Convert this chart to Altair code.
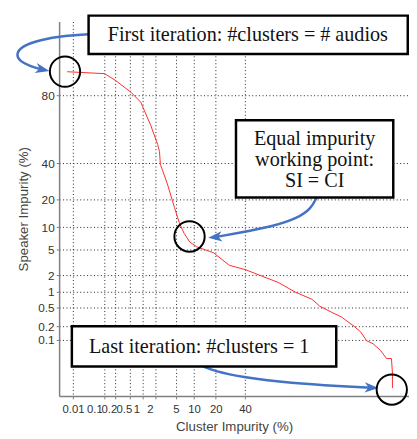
import altair as alt
import pandas as pd
from statistics import NormalDist

# ---- curve data (percent) ----
cluster_impurity = [0.0062, 0.102, 0.21, 0.54, 0.93, 1.56, 2.2, 2.4, 2.5, 3.45, 4.7, 5.7, 6.9, 8.6,
                    11.0, 18.8, 28.4, 40.7, 54.0, 66.0, 77.5, 86.3, 89.5, 93.2, 95.4, 97.4, 98.1,
                    98.6, 99.0, 99.34, 99.53, 99.65, 99.67, 99.67]
speaker_impurity = [88.9, 88.3, 86.0, 81.3, 76.7, 64.0, 52.0, 47.5, 39.4, 27.9, 16.7, 11.4, 8.4, 6.4,
                    5.5, 4.5, 2.9, 2.45, 1.9, 1.5, 1.0, 0.73, 0.53, 0.40, 0.32, 0.20, 0.15,
                    0.093, 0.079, 0.054, 0.034, 0.034, 0.0139, 0.0054]

x_ticks = [0.01, 0.1, 0.2, 0.5, 1, 2, 5, 10, 20, 40]
y_ticks = [0.1, 0.2, 0.5, 1, 2, 5, 10, 20, 40, 80]

# ---- annotation geometry (normal-deviate axis units) ----
box_labels = ["First iteration: #clusters = # audios", "Equal impurity\nworking point:\nSI = CI",
              "Last iteration: #clusters = 1"]
box_u1 = [-3.406, -0.436, -3.743]
box_u2 = [3.025, 2.733, 1.584]
box_v1 = [2.125, 0.439, -2.877]
box_v2 = [1.508, -0.803, -3.526]
text_u = [-0.198, 1.149, -1.178]
text_v = [1.816, 0.131, -3.209]   # for multi-line text: centre of first line

circle_u = [-3.881, -1.372, 2.703]
circle_v = [1.223, -1.432, -3.897]

arrow1_u = [-3.406, -3.867, -4.396, -4.758, -4.871, -4.792, -4.594, -4.337]
arrow1_v = [1.824, 1.804, 1.734, 1.630, 1.497, 1.392, 1.313, 1.254]
arrow2_u = [1.188, 1.083, 0.812, 0.291, -0.376, -0.851]
arrow2_v = [-0.803, -0.977, -1.136, -1.273, -1.373, -1.441]
arrow3_u = [-1.095, -0.897, -0.303, 0.687, 1.677, 2.297]
arrow3_v = [-3.526, -3.594, -3.700, -3.795, -3.842, -3.866]
head_u = [-4.333, -0.857, 2.297]
head_v = [1.258, -1.441, -3.866]
head_angle = [12, 174, 2]

nd = NormalDist()
xt = [nd.inv_cdf(v / 100) for v in x_ticks]
yt = [nd.inv_cdf(v / 100) for v in y_ticks]

curve = pd.DataFrame({"ci": cluster_impurity, "si": speaker_impurity,
                      "k": list(range(len(cluster_impurity)))})

arrows = pd.DataFrame({
    "u": arrow1_u + arrow2_u + arrow3_u,
    "v": arrow1_v + arrow2_v + arrow3_v,
    "a": ["a1"] * len(arrow1_u) + ["a2"] * len(arrow2_u) + ["a3"] * len(arrow3_u),
    "k": list(range(len(arrow1_u))) + list(range(len(arrow2_u))) + list(range(len(arrow3_u))),
})
heads = pd.DataFrame({"u": head_u, "v": head_v, "ang": head_angle})
boxes = pd.DataFrame({"u": box_u1, "u2": box_u2, "v": box_v1, "v2": box_v2})
circles = pd.DataFrame({"u": circle_u, "v": circle_v})

xscale = alt.Scale(domain=[-4.0, 3.05], nice=False, zero=False)
yscale = alt.Scale(domain=[-4.0, 2.03], nice=False, zero=False)

lab = "format(cumulativeNormal(datum.value) * 100, '.1~r')"
common_axis = dict(grid=True, gridDash=[1, 2.5], gridColor="#222222", gridWidth=1,
                   domainColor="#808080", domainWidth=1.5, tickColor="#808080", tickSize=3,
                   labelFont="Liberation Sans", labelColor="#333333",
                   labelOverlap=False, labelExpr=lab,
                   titleFont="Liberation Sans", titleFontSize=13.5, titleColor="#444444",
                   titleFontWeight="normal")

# crowded low-end labels sit packed side by side, as in the original
x_label_offset = {
    "condition": [
        {"test": "datum.value < -3.0 && datum.value > -3.2", "value": -10},
        {"test": "datum.value > -3.0 && datum.value < -1.9", "value": -6},
    ],
    "value": 0,
}

xaxis = alt.Axis(values=xt, title="Cluster Impurity (%)", titlePadding=5, labelPadding=5,
                 labelFontSize=11.5, labelOffset=x_label_offset, **common_axis)
yaxis = alt.Axis(values=yt, title="Speaker Impurity (%)", titlePadding=7, labelPadding=2,
                 labelFontSize=12, **common_axis)

X = alt.X("u:Q", scale=xscale, axis=xaxis)
Y = alt.Y("v:Q", scale=yscale, axis=yaxis)

line = alt.Chart(curve).transform_calculate(
    u="quantileNormal(datum.ci / 100)", v="quantileNormal(datum.si / 100)"
).mark_line(color="#ff2a2a", strokeWidth=1).encode(x=X, y=Y, order="k:Q")

arrow_lines = alt.Chart(arrows).mark_line(color="#4472c4", strokeWidth=2.5,
                                          interpolate="basis").encode(
    x=X, y=Y, detail="a:N", order="k:Q",
)
arrow_heads = alt.Chart(heads).mark_point(
    shape="M1,0 L-1,-0.75 L-0.45,0 L-1,0.75 Z", filled=True, color="#4472c4",
    size=200, opacity=1,
).encode(x=X, y=Y, angle=alt.Angle("ang:Q", scale=None))

box_rects = alt.Chart(boxes).mark_rect(fill="white", stroke="black", strokeWidth=2.5).encode(
    x=X, x2="u2:Q", y=Y, y2="v2:Q",
)

text_layers = []
for lbl, tu, tv in zip(box_labels, text_u, text_v):
    parts = lbl.split("\n")
    text_layers.append(
        alt.Chart(pd.DataFrame({"u": [tu], "v": [tv]})).mark_text(
            text=parts if len(parts) > 1 else parts[0],
            font="Liberation Serif", fontSize=20.5, color="#111111",
            align="center", baseline="middle", lineHeight=21,
        ).encode(x=X, y=Y)
    )

circle_marks = alt.Chart(circles).mark_point(shape="circle", size=950, filled=False,
                                             color="black", strokeWidth=2, opacity=1).encode(
    x=X, y=Y,
)

chart = alt.layer(line, arrow_lines, arrow_heads, box_rects, *text_layers, circle_marks).properties(
    width=356, height=381,
    autosize=alt.AutoSizeParams(type="none"),
    padding={"left": 52, "top": 10, "right": 0, "bottom": 38},
    background="white",
).configure_view(stroke=None)

chart.save("out.html", embed_options={"renderer": "svg", "actions": False})
